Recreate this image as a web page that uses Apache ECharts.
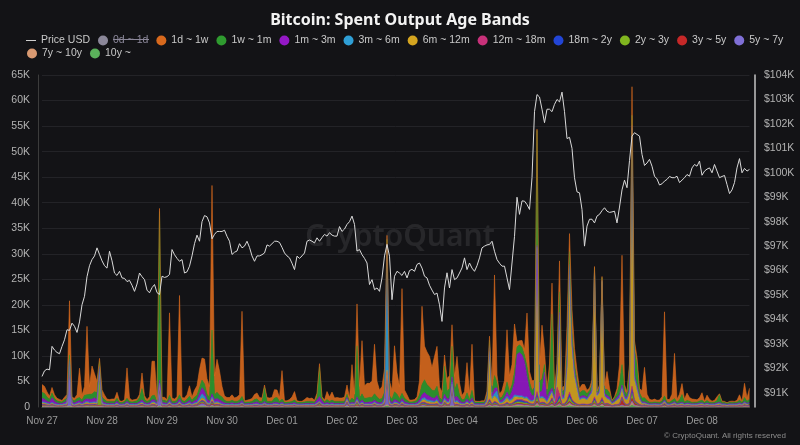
<!DOCTYPE html>
<html><head><meta charset="utf-8">
<script src="https://cdn.jsdelivr.net/npm/echarts@6/dist/echarts.min.js"></script>
<style>html,body{margin:0;padding:0;background:#131316;}#c{width:800px;height:445px;}</style>
</head><body><div id="c"></div>
<script>
// ---- Data (values in thousands of BTC, price in thousands USD), hourly from Nov 27 00:00 ----
const dayLabels = ['Nov 27','Nov 28','Nov 29','Nov 30','Dec 01','Dec 02','Dec 03','Dec 04','Dec 05','Dec 06','Dec 07','Dec 08'];
const rightTicks = [91,92,93,94,95,96,97,98,99,100,101,102,103,104];

const priceUSD = [
91.67,91.9,91.97,91.94,92.9,92.75,92.65,92.6,92.9,93.17,93.58,93.55,93.85,93.72,93.47,93.9,94.6,94.95,95.75,96.2,96.45,96.6,96.93,96.66,
96.4,96.2,96.1,96.79,96.4,95.9,95.8,95.97,95.7,95.68,95.55,95.6,95.4,95.15,95.45,95.9,95.75,95.63,95.2,95.09,95.3,95.43,95.1,95.02,
95.77,95.72,95.75,95.84,96.86,96.65,96.5,96.38,96.45,95.9,95.95,96.18,96.6,97.1,97.45,97.2,98.0,98.25,98.2,97.95,97.3,97.48,97.6,97.6,
97.6,97.65,97.4,97.2,96.66,96.75,96.8,97.1,96.93,97.0,97.2,96.95,96.6,96.38,96.6,96.6,96.65,96.72,97.05,97.0,97.1,97.2,97.2,97.15,
96.95,96.72,96.6,96.52,96.3,96.04,96.59,96.5,96.6,96.72,97.2,97.25,97.2,97.13,97.34,97.2,97.35,97.48,97.41,97.55,97.45,97.41,97.41,97.8,
97.6,97.7,97.89,98.0,98.23,97.89,96.8,96.86,96.65,96.5,96.31,95.43,95.63,95.22,95.29,95.15,95.7,96.6,97.07,96.59,94.81,95.77,95.97,95.9,
95.8,95.97,95.7,96.0,96.05,95.97,96.25,96.31,96.1,95.77,95.7,95.4,95.2,95.02,95.08,94.6,93.92,95.29,95.91,95.29,96.04,95.63,95.7,95.9,
96.11,96.52,96.04,96.31,96.1,95.97,96.2,96.52,96.93,97.0,97.05,97.07,97.2,96.79,96.45,96.3,96.18,96.18,95.7,95.22,96.31,97.4,99.0,98.3,
98.85,98.84,98.7,98.5,99.8,102.5,103.2,103.1,102.6,102.05,102.6,102.6,102.5,102.8,103.0,102.9,103.3,102.5,101.4,101.45,101.0,99.8,99.22,99.18,
98.5,97.0,97.82,98.1,98.1,97.95,98.23,98.3,98.45,98.57,98.43,98.38,98.4,98.43,97.95,98.6,99.3,99.7,99.39,100.5,101.5,101.64,101.57,101.5,
100.75,100.3,100.4,100.55,100.27,99.86,99.75,99.5,99.55,99.66,99.73,99.85,99.8,99.8,99.86,99.6,99.7,99.8,99.93,99.86,100.2,100.34,100.27,100.48,
99.9,100.07,100.15,100.2,100.0,100.34,100.07,99.8,99.85,99.89,99.52,99.15,99.3,99.6,100.2,100.58,100.0,100.18,100.07,100.14];

const band0d1d = [
62,58,51,47,55,49,44,41,39,46,52,71,48,45,53,66,50,58,74,57,63,60,55,68,
57,51,45,42,44,43,52,38,36,41,60,44,40,42,43,49,57,46,41,45,64,62,43,88,
47,46,41,72,44,42,45,79,46,44,50,58,47,55,61,69,73,71,60,55,95,62,70,65,
58,49,46,45,50,46,47,51,76,38,39,41,44,51,54,47,45,56,46,45,46,55,53,46,
64,37,36,40,45,52,37,35,35,40,45,43,44,39,50,62,47,40,52,45,51,44,45,44,
44,46,55,44,63,49,70,54,68,55,57,56,58,71,57,50,54,64,88,60,52,70,62,54,
84,55,49,39,39,40,45,59,78,69,67,66,61,68,73,54,50,69,62,63,82,63,69,56,
47,51,65,49,72,38,37,37,38,38,52,73,55,85,61,50,53,60,75,62,68,80,72,73,
73,70,81,61,58,58,115,66,79,69,52,66,88,52,65,92,52,54,78,98,81,70,61,52,
56,56,52,50,59,88,49,54,86,54,61,52,40,45,53,64,90,56,51,66,120,68,63,52,
54,65,50,42,41,42,40,41,46,78,42,42,50,70,42,49,56,42,52,46,44,42,41,45,
52,39,48,42,39,40,46,44,39,38,37,38,39,38,40,50,39,57,44,53];

const band1d1w = [
1.5,1.4,1.0,0.6,1.1,0.7,0.5,0.4,0.3,0.5,0.7,10.6,0.5,0.5,0.75,5.75,0.95,1.7,13.4,1.5,5.5,3.5,2.15,0.55,
1.4,0.9,0.45,0.35,0.45,0.45,1.15,0.3,0.25,0.35,5.95,0.65,0.35,0.35,0.35,0.65,3.05,0.75,0.35,0.65,6.75,6.65,0.35,0.6,
0.55,0.55,0.35,16.15,0.65,0.45,0.65,19.45,0.55,0.65,0.9,2.05,0.65,1.35,1.85,3.5,4.3,4.9,3.05,2.15,28.3,3.65,6.45,4.75,
2.05,0.85,0.75,0.75,1.05,0.65,0.85,1.05,16.65,0.3,0.35,0.45,0.55,0.95,1.15,0.75,0.65,0.45,0.75,0.65,0.75,1.65,1.45,0.75,
5.55,0.3,0.3,0.45,0.85,1.65,0.3,0.2,0.2,0.45,0.75,0.55,0.65,0.35,0.85,0.65,0.35,0.35,1.55,0.85,1.55,0.65,0.75,0.65,
0.65,0.85,1.8,0.65,6.55,1.25,8.2,2.35,10.4,2.45,2.85,2.75,3.15,9.7,3.05,1.75,2.35,4.6,0.8,2.9,1.75,9.0,4.2,2.35,
20.5,1.6,1.05,0.35,0.35,0.35,0.65,2.7,15.3,6.6,6.4,6.0,4.4,6.7,7.8,2.1,1.55,2.2,2.5,2.5,4.2,2.7,5.3,2.4,
0.85,1.45,5.9,1.05,9.0,0.25,0.15,0.15,0.25,0.25,0.9,0.8,1.2,19.7,1.5,0.8,1.3,2.3,10.2,3.1,4.0,9.4,1.0,0.8,
1.35,1.15,10.45,2.05,1.95,1.35,0.25,3.45,10.45,2.65,1.05,2.45,6.05,1.05,0.55,6.05,0.75,0.75,5.65,3.5,4.55,3.25,1.95,0.85,
1.2,1.2,0.7,0.5,1.0,0.2,0.2,0.3,0.2,0.7,3.5,1.0,0.1,0.2,0.9,3.8,21.4,1.2,0.6,0.8,5.6,1.7,1.5,0.8,
1.45,5.95,1.25,0.55,0.45,0.55,0.35,0.45,0.85,16.45,0.55,0.55,1.25,8.85,0.55,1.15,2.15,0.55,1.45,0.75,0.65,0.55,0.45,0.65,
1.45,0.25,1.05,0.55,0.25,0.35,0.75,0.15,0.25,0.15,0.1,0.15,0.25,0.15,0.35,1.05,0.25,2.75,0.65,2.15];

const band1w1m = [
1.2,1.1,0.8,0.6,0.9,0.6,0.4,0.4,0.3,0.5,0.6,0.8,0.5,0.4,0.6,0.6,0.5,0.9,0.8,1.0,1.0,1.2,1.5,1.0,
0.8,0.6,0.4,0.4,0.4,0.4,0.6,0.3,0.3,0.4,0.6,0.4,0.3,0.4,0.5,0.8,2.2,0.6,0.4,0.5,0.8,0.9,0.4,33.0,
0.5,0.5,0.4,0.8,0.4,0.4,0.5,0.8,0.5,0.4,0.6,0.8,0.5,0.7,0.9,1.2,1.5,1.4,1.0,0.8,12.5,1.0,1.2,0.9,
0.9,0.5,0.4,0.4,0.5,0.4,0.4,0.5,0.8,0.3,0.3,0.3,0.4,0.6,0.6,0.4,0.4,2.8,0.4,0.4,0.4,0.8,1.0,0.4,
0.6,0.3,0.3,0.3,0.4,0.5,0.3,0.3,0.3,0.3,0.4,0.4,0.4,0.3,0.5,5.8,0.5,0.3,0.6,0.4,0.5,0.4,0.4,0.4,
0.4,0.4,0.6,0.4,0.8,0.5,10.0,0.8,1.2,0.8,0.9,0.9,0.9,1.2,1.0,0.7,0.8,1.0,0.8,0.8,0.7,1.5,1.2,0.8,
1.0,0.7,0.5,0.3,0.3,0.4,0.5,1.0,2.0,2.5,2.0,1.8,1.5,1.5,1.8,0.8,0.6,5.5,1.5,2.0,6.0,1.5,2.5,1.0,
0.5,0.6,1.2,0.5,1.5,0.3,0.3,0.3,0.3,0.3,0.5,1.0,0.8,2.5,1.0,0.5,0.6,1.0,2.0,1.0,1.2,2.0,1.5,1.5,
1.5,1.2,2.0,1.5,1.0,1.5,22.5,2.0,2.5,1.5,0.8,3.0,14.5,0.8,1.0,4.0,0.8,1.0,2.0,2.5,2.0,1.5,1.0,0.8,
1.0,1.0,0.8,0.6,1.0,0.5,0.5,0.8,0.5,0.8,1.2,0.8,0.3,0.5,0.8,2.0,4.0,1.0,0.6,4.0,2.0,5.0,4.0,0.8,
0.8,0.8,0.5,0.3,0.3,0.3,0.3,0.3,0.4,0.8,0.3,0.3,0.5,0.6,0.3,0.6,1.5,0.3,0.5,0.4,0.3,0.3,0.3,0.4,
0.5,0.3,0.5,0.3,0.3,0.3,0.5,1.5,0.3,0.3,0.25,0.3,0.3,0.3,0.3,0.5,0.3,0.8,0.4,0.6];

const band1m3m = [
0.7,0.6,0.4,0.3,0.9,0.5,0.3,0.2,0.2,0.3,0.4,0.4,0.3,0.3,0.4,0.4,0.3,0.5,0.5,0.6,0.6,0.8,0.5,0.5,
0.4,0.3,0.2,0.2,0.2,0.2,0.4,0.2,0.15,0.2,0.3,0.2,0.2,0.2,0.2,0.3,0.4,0.3,0.2,0.3,0.4,0.4,0.2,0.6,
0.3,0.3,0.2,0.4,0.2,0.2,0.3,0.5,0.3,0.2,0.3,0.4,0.3,0.4,0.5,0.8,1.2,1.0,0.6,0.4,0.6,0.5,0.6,0.5,
0.5,0.3,0.2,0.2,0.3,0.2,0.2,0.3,0.4,0.15,0.2,0.2,0.2,0.3,0.4,0.2,0.2,0.3,0.2,0.2,0.2,0.3,0.3,0.2,
0.3,0.15,0.15,0.2,0.2,0.3,0.15,0.15,0.15,0.2,0.2,0.2,0.2,0.2,0.6,0.9,0.6,0.2,0.3,0.2,0.3,0.2,0.2,0.2,
0.2,0.2,0.3,0.2,0.3,0.2,0.5,0.3,0.4,0.3,0.3,0.4,0.4,0.4,0.4,0.3,0.3,0.4,0.4,0.4,0.3,0.5,0.4,0.3,
0.5,0.4,0.3,0.2,0.2,0.2,0.3,0.5,0.8,1.0,1.0,0.8,0.6,0.6,0.8,0.4,0.3,0.8,0.6,0.6,1.0,0.8,0.8,0.5,
0.3,0.3,0.5,0.3,0.6,0.2,0.2,0.2,0.2,0.2,0.4,1.2,0.5,1.0,0.6,0.3,0.4,0.5,0.8,0.6,1.5,2.5,8.0,8.5,
8.0,7.0,4.0,2.0,1.0,0.8,0.3,1.0,1.0,5.0,0.6,0.8,0.6,0.5,0.6,0.5,0.5,0.5,0.6,0.5,0.5,0.5,0.4,0.4,
0.4,0.4,0.3,0.3,0.4,0.2,0.2,0.3,0.2,0.4,0.5,0.4,0.2,0.3,0.4,0.5,0.5,0.4,0.3,0.5,0.5,0.6,0.5,0.3,
0.2,0.2,0.15,0.15,0.1,0.15,0.15,0.1,0.15,0.2,0.15,0.1,0.15,0.2,0.15,0.15,0.2,0.15,0.15,0.15,0.1,0.15,0.15,0.15,
0.15,0.1,0.15,0.15,0.1,0.15,0.15,0.2,0.1,0.15,0.1,0.15,0.1,0.15,0.15,0.2,0.1,0.2,0.15,0.2];

const band3m6m = [
0.2,0.2,0.15,0.1,0.2,0.1,0.1,0.1,0.1,0.1,0.15,0.2,0.1,0.1,0.1,0.15,0.1,0.2,0.2,0.2,0.2,0.2,0.15,0.2,
0.1,0.1,0.1,0.1,0.1,0.1,0.1,0.05,0.05,0.1,0.1,0.1,0.1,0.1,0.1,0.1,0.2,0.1,0.1,0.1,0.2,0.2,0.1,0.3,
0.1,0.1,0.1,0.2,0.1,0.1,0.1,0.2,0.1,0.1,0.1,0.2,0.1,0.2,0.2,0.5,0.8,0.6,0.2,0.1,0.3,0.2,0.2,0.2,
0.1,0.1,0.1,0.1,0.1,0.1,0.1,0.1,0.15,0.1,0.1,0.1,0.1,0.1,0.12,0.1,0.1,0.1,0.1,0.1,0.1,0.12,0.1,0.1,
0.1,0.1,0.1,0.1,0.1,0.1,0.1,0.1,0.1,0.1,0.1,0.1,0.1,0.1,0.15,0.12,0.1,0.1,0.1,0.1,0.1,0.1,0.1,0.1,
0.1,0.1,0.1,0.1,0.1,0.1,0.2,0.1,0.2,0.1,0.1,0.1,0.1,0.2,0.1,0.1,0.1,0.5,24.4,0.3,0.1,0.2,0.2,0.1,
0.2,0.1,0.1,0.1,0.1,0.1,0.1,0.2,0.3,0.4,0.3,0.3,0.3,0.2,0.3,0.1,0.1,0.3,0.2,0.2,0.4,0.2,0.3,0.2,
0.1,0.1,0.2,0.1,0.2,0.1,0.1,0.1,0.1,0.1,0.2,0.3,0.3,0.5,1.5,0.2,0.2,0.3,0.4,0.3,0.3,0.4,0.3,0.3,
0.3,0.3,0.3,0.2,0.2,0.3,0.3,0.3,0.3,0.3,0.2,0.3,0.3,0.2,0.4,3.0,0.2,0.3,0.3,1.5,0.5,0.3,0.2,0.2,
0.2,0.2,0.2,0.2,0.2,0.2,0.1,0.2,0.2,0.2,0.2,0.2,0.1,0.1,0.2,0.3,0.3,0.2,0.2,0.3,0.5,0.3,0.3,0.2,
0.1,0.1,0.1,0.1,0.1,0.1,0.1,0.1,0.1,0.15,0.1,0.1,0.1,0.12,0.1,0.1,0.12,0.1,0.1,0.1,0.1,0.1,0.1,0.1,
0.1,0.1,0.1,0.1,0.1,0.1,0.1,0.12,0.1,0.1,0.1,0.1,0.1,0.1,0.1,0.12,0.1,0.15,0.1,0.12];

const band6m12m = [
0.2,0.2,0.15,0.1,0.2,0.1,0.1,0.1,0.1,0.1,0.15,0.2,0.1,0.1,0.15,0.2,0.1,0.2,0.3,0.2,0.2,0.2,0.2,0.3,
0.15,0.1,0.1,0.1,0.1,0.1,0.2,0.1,0.1,0.1,0.2,0.1,0.1,0.1,0.1,0.2,0.2,0.1,0.1,0.1,0.3,0.3,0.1,0.4,
0.1,0.1,0.1,0.3,0.1,0.1,0.1,0.3,0.1,0.1,0.15,0.2,0.1,0.2,0.2,0.3,0.4,0.4,0.2,0.2,0.5,0.2,0.3,0.2,
0.1,0.1,0.1,0.1,0.1,0.1,0.1,0.1,0.15,0.1,0.1,0.1,0.1,0.12,0.1,0.1,0.1,0.15,0.1,0.1,0.1,0.12,0.1,0.1,
0.1,0.1,0.1,0.1,0.1,0.1,0.1,0.1,0.1,0.1,0.1,0.1,0.1,0.1,0.12,0.15,0.1,0.1,0.1,0.1,0.1,0.1,0.1,0.1,
0.1,0.1,0.5,0.1,0.1,0.1,0.3,0.1,0.2,0.1,0.1,0.1,0.1,0.2,0.1,0.1,0.1,0.2,0.3,0.2,0.1,0.2,0.2,0.1,
0.3,0.15,0.1,0.1,0.1,0.1,0.1,0.2,0.4,0.5,0.4,0.4,0.3,0.3,0.5,0.15,0.1,0.4,0.3,0.3,0.5,0.3,0.4,0.2,
0.2,0.2,0.3,0.2,0.4,0.1,0.1,0.1,0.1,0.1,0.6,9.0,0.8,1.0,0.8,0.3,0.3,0.5,0.8,0.5,0.6,0.8,0.5,0.4,
0.4,0.4,0.5,0.4,0.4,0.6,28.0,0.8,0.8,0.6,0.4,1.0,1.0,0.5,2.0,12.5,0.8,1.0,6.0,23.0,10.0,5.0,3.0,0.8,
1.0,1.0,0.8,1.5,2.0,24.4,1.5,2.0,22.6,1.5,0.8,0.8,0.3,0.5,0.8,1.0,1.5,0.8,0.8,2.0,50.0,4.0,2.5,1.0,
0.3,0.25,0.2,0.15,0.15,0.2,0.15,0.15,0.2,0.3,0.15,0.15,0.2,0.25,0.15,0.2,0.2,0.15,0.2,0.15,0.15,0.15,0.15,0.2,
0.2,0.15,0.2,0.15,0.15,0.15,0.2,0.2,0.15,0.15,0.1,0.15,0.15,0.15,0.15,0.2,0.15,0.25,0.15,0.2];

const band12m18m = [
.08,.07,.06,.05,.07,.05,.04,.04,.04,.05,.06,.08,.05,.04,.05,.06,.05,.06,.07,.06,.07,.08,.06,.07,
.06,.05,.04,.04,.04,.04,.05,.03,.03,.04,.06,.04,.04,.04,.04,.05,.06,.05,.04,.04,.06,.06,.04,.1,
.04,.04,.04,.06,.04,.04,.04,.06,.04,.04,.05,.06,.04,.05,.06,.08,.1,.09,.06,.05,.1,.06,.06,.05,
.05,.04,.04,.04,.04,.04,.04,.04,.06,.03,.03,.04,.04,.05,.05,.04,.04,.06,.04,.04,.04,.05,.05,.04,
.05,.03,.03,.04,.04,.05,.03,.03,.03,.04,.04,.04,.04,.04,.06,.08,.05,.04,.05,.04,.05,.04,.04,.04,
.04,.04,.08,.04,.05,.04,.08,.05,.06,.05,.05,.05,.05,.06,.05,.04,.05,.08,.3,.06,.04,.06,.05,.04,
.08,.05,.04,.04,.04,.04,.04,.06,.1,.12,.1,.08,.07,.07,.08,.05,.04,.1,.06,.06,.15,.06,.08,.05,
.04,.04,.06,.04,.06,.03,.03,.03,.03,.03,.06,.2,.08,.15,.1,.05,.06,.08,.1,.07,.1,.15,.2,.2,
.25,.2,.15,.1,.08,.1,.5,.1,.15,.12,.06,.1,.2,.08,3.0,.4,.08,.08,.2,.5,.2,.12,.08,.06,
.08,.08,.06,.08,.1,.3,.08,.1,.3,.08,.06,.06,.04,.05,.06,.08,.15,.06,.06,.1,.6,.15,.1,.06,
.04,.06,.04,.03,.03,.03,.03,.03,.04,.1,.03,.03,.04,.06,.03,.04,.05,.03,.04,.04,.03,.03,.03,.04,
.05,.03,.04,.03,.03,.03,.04,.05,.03,.03,.02,.03,.03,.03,.03,.04,.03,.06,.04,.05];

const band18m2y = [
.1,.09,.07,.06,.08,.06,.05,.05,.04,.06,.07,.12,.06,.05,.06,.08,.06,.08,.1,.08,.09,.1,.08,.1,
.08,.06,.05,.05,.05,.05,.07,.04,.04,.05,.08,.05,.04,.05,.05,.06,.1,.06,.05,.06,.09,.09,.05,.2,
.06,.06,.05,.1,.05,.05,.06,.1,.05,.05,.06,.08,.05,.07,.08,.15,.2,.15,.08,.06,.2,.08,.1,.07,
.07,.05,.05,.05,.06,.05,.05,.06,.1,.04,.04,.05,.05,.06,.07,.05,.05,.08,.05,.05,.05,.07,.07,.05,
.08,.04,.04,.05,.05,.06,.04,.04,.04,.05,.05,.05,.05,.04,.08,.12,.07,.05,.06,.05,.06,.05,.05,.05,
.05,.05,.1,.05,.08,.06,.12,.06,.1,.07,.07,.07,.07,.1,.07,.06,.06,.1,.4,.08,.06,.1,.08,.06,
.12,.07,.06,.05,.05,.05,.06,.08,.15,.15,.12,.1,.1,.1,.12,.06,.05,.12,.08,.08,.2,.08,.1,.07,
.05,.06,.1,.06,.1,.04,.04,.04,.04,.04,.08,.3,.1,.2,.15,.06,.07,.1,.15,.1,.12,.2,.3,.3,
.3,.25,.2,.12,.1,.1,.6,.12,.15,.15,.08,.15,.3,.08,.2,.5,.1,.1,.25,.6,.3,.15,.1,.08,
.1,.1,.08,.1,.12,.4,.1,.12,.35,.1,.08,.08,.05,.06,.08,.1,.2,.08,.08,.12,.8,.2,.12,.08,
.06,.08,.05,.04,.04,.04,.04,.04,.05,.12,.04,.04,.05,.08,.04,.05,.06,.04,.05,.05,.04,.04,.04,.05,
.06,.04,.05,.04,.04,.04,.05,.06,.04,.04,.03,.04,.04,.04,.04,.05,.04,.08,.05,.06];

const band2y3y = [
.12,.1,.08,.07,.1,.07,.06,.05,.05,.07,.08,.15,.07,.06,.08,.1,.07,.1,.12,.1,.1,.12,.1,6.5,
.1,.08,.06,.06,.06,.06,.08,.05,.05,.06,.1,.06,.05,.06,.06,.08,.15,.08,.06,.07,.1,.1,.06,.3,
.07,.07,.06,.12,.06,.06,.07,.12,.06,.06,.08,.1,.06,.08,.1,.2,.25,.2,.1,.08,.3,.1,.12,.1,
.08,.06,.06,.06,.07,.06,.06,.07,.12,.05,.05,.06,.06,.08,.08,.06,.06,.15,.06,.06,.06,.08,.08,.06,
.1,.05,.05,.06,.06,.08,.05,.05,.05,.06,.06,.06,.06,.05,.1,.3,.08,.06,.08,.06,.08,.06,.06,.06,
.06,.06,.12,.06,.1,.08,.4,.08,.12,.08,.08,.08,.08,.12,.08,.07,.08,.12,.5,.1,.07,.12,.1,.07,
.15,.08,.07,.06,.06,.06,.07,.1,.2,.2,.15,.12,.12,.12,.15,.07,.06,.3,.1,.1,.3,.1,.12,.08,
.06,.07,.12,.07,.12,.05,.05,.05,.05,.05,.1,.4,.12,.25,.15,.07,.08,.12,.2,.12,.15,.25,.3,.3,
.3,.25,.25,.15,.12,.12,.8,.15,.2,.2,.1,.2,.5,.1,.2,.6,.12,.12,.3,.7,.35,.2,.12,.1,
.12,.12,.1,.12,.15,.5,.12,.15,.4,.12,.1,.1,.06,.08,.1,.15,.25,.1,.1,.2,1.0,.25,.15,.1,
.08,.1,.06,.05,.05,.05,.05,.05,.06,.15,.05,.05,.06,.1,.05,.06,.1,.05,.06,.06,.05,.05,.05,.06,
.08,.05,.06,.05,.05,.05,.06,.1,.05,.05,.04,.05,.05,.05,.05,.06,.05,.1,.06,.08];

const band3y5y = [
.06,.05,.04,.04,.05,.04,.03,.03,.03,.04,.04,.06,.04,.03,.04,.05,.04,.05,.06,.05,.05,.06,.05,.06,
.05,.04,.03,.03,.03,.03,.04,.03,.03,.03,.05,.03,.03,.03,.03,.04,.06,.04,.03,.04,.05,.05,.03,.12,
.04,.04,.03,.06,.03,.03,.04,.06,.03,.03,.04,.05,.03,.04,.05,.08,.1,.08,.05,.04,.12,.05,.06,.05,
.04,.03,.03,.03,.04,.03,.03,.04,.06,.03,.03,.03,.03,.04,.04,.03,.03,.05,.03,.03,.03,.04,.04,.03,
.05,.03,.03,.03,.03,.04,.03,.03,.03,.03,.03,.03,.03,.03,.05,.08,.04,.03,.04,.03,.04,.03,.03,.03,
.03,.03,.06,.03,.05,.04,.1,.04,.06,.04,.04,.04,.04,.06,.04,.04,.04,.06,.2,.05,.04,.06,.05,.04,
.06,.04,.04,.03,.03,.03,.04,.05,.08,.08,.06,.06,.06,.06,.06,.04,.03,.08,.05,.05,.1,.05,.06,.04,
.03,.04,.06,.04,.06,.03,.03,.03,.03,.03,.05,.15,.06,.1,.08,.04,.04,.06,.08,.06,.08,.1,.15,.15,
.15,.12,.1,.08,.06,.06,.3,.08,.1,.1,.05,.1,.2,.05,.15,.3,.06,.06,.15,.3,.15,.1,.06,.05,
.06,.06,.05,.06,.08,.2,.06,.08,.2,.06,.3,.08,.03,.04,.05,.08,1.0,.3,.05,.1,.5,.4,.2,.05,
.04,.05,.03,.03,.03,.03,.03,.03,.04,.08,.03,.03,.04,.06,.03,.04,.05,.03,.04,.04,.03,.03,.03,.04,
.05,.03,.04,.03,.03,.03,.04,.05,.03,.03,.02,.03,.03,.03,.03,.04,.03,.06,.04,.05];

const band5y7y = [
0.1,0.1,0.1,0.1,0.1,0.1,0.05,0.05,0.05,0.1,0.1,8.0,0.1,0.05,0.1,0.1,0.05,0.1,0.1,0.1,0.1,0.1,0.1,0.1,
0.1,0.05,0.05,0.05,0.05,0.05,0.1,0.05,0.05,0.05,0.1,0.05,0.05,0.05,0.05,0.1,0.1,0.05,0.05,0.05,0.1,0.1,0.05,3.0,
0.05,0.05,0.05,0.1,0.05,0.05,0.05,0.1,0.05,0.05,0.05,0.1,0.05,0.1,0.1,0.3,0.5,0.4,0.1,0.05,0.2,0.1,0.1,0.1,
0.05,0.05,0.05,0.05,0.05,0.05,0.05,0.05,0.1,0.05,0.05,0.05,0.05,0.05,0.05,0.05,0.05,0.05,0.05,0.05,0.05,0.08,0.05,0.05,
0.08,0.05,0.05,0.05,0.05,0.05,0.05,0.05,0.05,0.05,0.05,0.05,0.05,0.05,0.08,0.1,0.05,0.05,0.05,0.05,0.05,0.05,0.05,0.05,
0.05,0.05,0.5,0.05,0.05,0.05,0.1,0.05,0.1,0.05,0.05,0.05,0.05,0.1,0.05,0.05,0.05,0.3,5.0,0.1,0.05,0.1,0.1,0.05,
0.1,0.05,0.05,0.05,0.05,0.05,0.05,0.1,0.2,0.2,0.1,0.1,0.1,0.1,0.1,0.05,0.05,0.2,0.1,0.1,3.0,0.1,0.1,0.1,
0.05,0.05,0.1,0.05,0.1,0.05,0.05,0.05,0.05,0.05,0.1,0.2,0.1,0.2,0.2,0.1,0.1,0.1,0.2,0.1,0.1,0.2,0.2,0.2,
0.15,0.15,0.2,0.15,0.1,0.15,0.2,0.15,0.15,0.15,0.1,0.15,0.2,0.1,0.15,0.2,0.1,0.15,0.15,0.2,0.15,0.15,0.1,0.1,
0.1,0.1,0.1,0.1,0.1,0.1,0.1,0.1,0.1,0.1,0.1,0.1,0.05,0.1,0.1,0.1,0.15,0.1,0.1,0.1,0.2,0.1,0.1,0.1,
0.05,0.06,0.05,0.04,0.04,0.04,0.04,0.04,0.05,0.1,0.04,0.04,0.05,0.06,0.04,0.05,0.06,0.04,0.05,0.05,0.04,0.04,0.04,0.05,
0.05,0.04,0.05,0.04,0.04,0.04,0.05,0.06,0.04,0.04,0.03,0.04,0.04,0.04,0.04,0.05,0.04,0.06,0.05,0.05];

const band7y10y = [
.08,.07,.06,.05,.07,.05,.04,.04,.04,.05,.06,.1,.05,.04,.05,.06,.05,.06,.08,.06,.07,.08,.06,.08,
.06,.05,.04,.04,.04,.04,.05,.03,.03,.04,.06,.04,.04,.04,.04,.05,.08,.05,.04,.04,.06,.06,.04,.15,
.04,.04,.04,.08,.04,.04,.04,.08,.04,.04,.05,.06,.04,.05,.06,.1,.12,.1,.06,.05,.15,.06,.08,.06,
.05,.04,.04,.04,.04,.04,.04,.04,.08,.03,.03,.04,.04,.05,.05,.04,.04,.06,.04,.04,.04,.05,.05,.04,
.06,.03,.03,.04,.04,.05,.03,.03,.03,.04,.04,.04,.04,.04,.06,.1,.05,.04,.05,.04,.05,.04,.04,.04,
.04,.04,.08,.04,.06,.05,.1,.05,.08,.05,.05,.05,.05,.08,.05,.04,.05,.08,.3,.06,.04,.08,.06,.04,
.1,.05,.04,.04,.04,.04,.04,.06,.1,.1,.08,.08,.08,.08,.1,.05,.04,.1,.06,.06,.15,.06,.08,.05,
.04,.04,.08,.04,.08,.03,.03,.03,.03,.03,.06,.2,.08,.15,.1,.05,.06,.08,.1,.08,.1,.15,.2,.2,
.2,.15,.15,.1,.08,.08,.4,.1,.12,.1,.06,.1,.25,.06,.12,.3,.08,.08,.15,.4,.2,.12,.08,.06,
.08,.08,.06,.08,.1,.3,.08,.1,.3,.08,.06,.06,.04,.05,.06,.08,.15,.06,.06,.1,.6,.15,.1,.06,
.04,.06,.04,.03,.03,.03,.03,.03,.04,.1,.03,.03,.04,.06,.03,.04,.05,.03,.04,.04,.03,.03,.03,.04,
.05,.03,.04,.03,.03,.03,.04,.05,.03,.03,.02,.03,.03,.03,.03,.04,.03,.06,.04,.05];

const band10y = [
.06,.05,.04,.04,.05,.04,.03,.03,.03,.04,.04,.08,.04,.03,.04,.05,.04,.05,.06,.05,.05,.06,.05,.06,
.05,.04,.03,.03,.03,.03,.04,.03,.03,.03,.05,.03,.03,.03,.03,.04,.06,.04,.03,.04,.05,.05,.03,.1,
.04,.04,.03,.06,.03,.03,.04,.06,.03,.03,.04,.05,.03,.04,.05,.08,.1,.08,.05,.04,.1,.05,.06,.05,
.04,.03,.03,.03,.04,.03,.03,.04,.06,.03,.03,.03,.03,.04,.04,.03,.03,.05,.03,.03,.03,.04,.04,.03,
.05,.03,.03,.03,.03,.04,.03,.03,.03,.03,.03,.03,.03,.03,.05,.08,.04,.03,.04,.03,.04,.03,.03,.03,
.03,.03,.06,.03,.05,.04,.08,.04,.06,.04,.04,.04,.04,.06,.04,.04,.04,.06,.2,.05,.04,.06,.05,.04,
.06,.04,.04,.03,.03,.03,.04,.05,.08,.08,.06,.06,.06,.06,.06,.04,.03,.08,.05,.05,.1,.05,.06,.04,
.03,.04,.06,.04,.06,.03,.03,.03,.03,.03,.05,.12,.06,.1,.08,.04,.04,.06,.08,.06,.08,.1,.12,.12,
.12,.1,.1,.08,.06,.06,.25,.08,.1,.08,.05,.08,.15,.05,.1,.25,.06,.06,.12,.25,.12,.08,.06,.05,
.06,.06,.05,.06,.08,.2,.06,.08,.2,.06,.05,.05,.03,.04,.05,.06,.1,.05,.05,.08,.4,.1,.08,.05,
.04,.05,.03,.03,.03,.03,.03,.03,.04,.08,.03,.03,.04,.05,.03,.04,.05,.03,.04,.04,.03,.03,.03,.04,
.05,.03,.04,.03,.03,.03,.04,.05,.03,.03,.02,.03,.03,.03,.03,.04,.03,.06,.04,.05];

// ---- Series definitions (legend order) ----
const bandNames = ['0d ~ 1d','1d ~ 1w','1w ~ 1m','1m ~ 3m','3m ~ 6m','6m ~ 12m','12m ~ 18m','18m ~ 2y','2y ~ 3y','3y ~ 5y','5y ~ 7y','7y ~ 10y','10y ~'];
const bandData = [band0d1d,band1d1w,band1w1m,band1m3m,band3m6m,band6m12m,band12m18m,band18m2y,band2y3y,band3y5y,band5y7y,band7y10y,band10y];
const bandColors = ['#a7a2c2','#d8691d','#2f9b2f','#9418c6','#2f9fd6','#d5a520','#c8317a','#2245d6','#80b51f','#c62828','#7f6fd6','#d99a72','#5bb15b'];

// hourly categories
const hourCats = priceUSD.map((_, i) => dayLabels[Math.floor(i / 24)] + ' ' + String(i % 24).padStart(2, '0') + ':00');

const chart = echarts.init(document.getElementById('c'), null, {renderer:'canvas'});
const FONT = 'Liberation Sans';

const series = [];
// stack from the oldest band (bottom) to the youngest (top)
for (let k = bandNames.length - 1; k >= 0; k--) {
  series.push({
    name: bandNames[k], type: 'line', stack: 'soab', yAxisIndex: 0,
    symbol: 'none', showSymbol: false, smooth: false,
    color: bandColors[k],
    lineStyle: {width: 0.6, color: bandColors[k]},
    areaStyle: {color: bandColors[k], opacity: 0.9},
    emphasis: {disabled: true},
    data: bandData[k]
  });
}
series.push({
  name: 'Price USD', type: 'line', yAxisIndex: 1, symbol: 'none', showSymbol: false,
  color: '#d9d9d9', lineStyle: {width: 1, color: '#d9d9d9'}, z: 10,
  emphasis: {disabled: true},
  data: priceUSD
});

const legendText = {color: '#c9c9c9', fontSize: 10.5, fontFamily: FONT};
const row1 = ['Price USD'].concat(bandNames.slice(0, 11));
const row2 = bandNames.slice(11);
const legendItem = n => n === 'Price USD'
  ? {name: n, icon: 'path://M0,0L12,0L12,1.2L0,1.2Z', itemStyle: {color: '#cfcfcf'}}
  : {name: n, icon: 'circle'};

chart.setOption({
  backgroundColor: '#131316',
  animation: false,
  title: {text: 'Bitcoin: Spent Output Age Bands', left: 'center', top: 7,
    textStyle: {color: '#f2f2f2', fontSize: 16, fontWeight: 'bold', fontFamily: 'Noto Sans'}},
  legend: [
    {data: row1.map(legendItem), top: 30, left: 21, width: 790, itemWidth: 10, itemHeight: 10, itemGap: 8,
     textStyle: legendText, inactiveColor: '#8b8799', selected: {'0d ~ 1d': false}},
    {data: row2.map(legendItem), top: 43, left: 22, itemWidth: 10, itemHeight: 10, itemGap: 8,
     textStyle: legendText, inactiveColor: '#8b8799'}
  ],
  grid: {left: 42, right: 50.5, top: 75, bottom: 38, containLabel: false},
  xAxis: {
    type: 'category', data: hourCats, boundaryGap: false,
    axisLine: {show: true, lineStyle: {color: '#4a4a4a'}},
    axisTick: {show: false},
    splitLine: {show: false},
    axisLabel: {
      interval: (idx) => idx % 24 === 0,
      formatter: (v) => v.slice(0, 6),
      color: '#9a9a9a', fontSize: 10, fontFamily: FONT, margin: 9
    }
  },
  yAxis: [
    {type: 'value', min: 0, max: 65, interval: 5, position: 'left', offset: 4,
     axisLine: {show: true, lineStyle: {color: '#3c3c3c'}},
     axisTick: {show: false},
     splitLine: {show: true, lineStyle: {color: '#232327', width: 1}},
     axisLabel: {formatter: v => v === 0 ? '0' : v + 'K', color: '#b3b3b3', fontSize: 10.5, fontFamily: FONT, margin: 8}},
    {type: 'value', min: 90.42, max: 104, position: 'right', offset: 5.5,
     axisLine: {show: true, lineStyle: {color: '#c4c4c4', width: 1.5}},
     axisTick: {show: false},
     splitLine: {show: false},
     axisLabel: {customValues: rightTicks, formatter: v => '$' + v + 'K', color: '#b3b3b3', fontSize: 10.5, fontFamily: FONT, margin: 9}}
  ],
  graphic: [
    {type: 'text', left: 'center', top: 222, z: 0, silent: true,
     style: {text: 'CryptoQuant', fontSize: 30, fontWeight: 600, fontFamily: 'Noto Sans', fill: 'rgba(255,255,255,0.085)'}},
    {type: 'text', right: 14, bottom: 5, silent: true,
     style: {text: '\u00A9 CryptoQuant. All rights reserved', fontSize: 8, fontFamily: FONT, fill: '#8c8c8c'}},
    // strike-through over the disabled "0d ~ 1d" legend label
    {type: 'line', silent: true, z: 100,
     shape: {x1: 113, y1: 39.5, x2: 149, y2: 39.5},
     style: {stroke: '#8b8799', lineWidth: 1}}
  ],
  series: series
});
</script>
</body></html>
